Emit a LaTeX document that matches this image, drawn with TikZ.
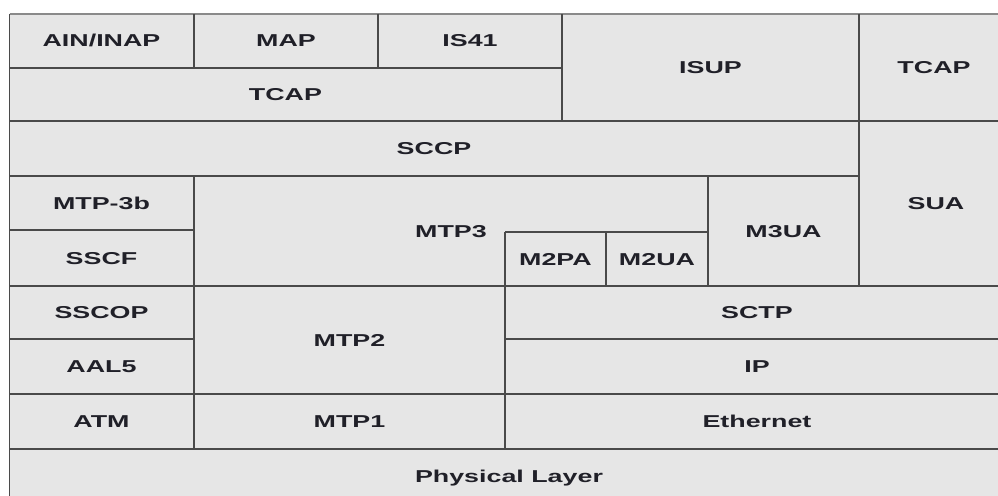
\documentclass[tikz,border=0pt]{standalone}
\usepackage{fontspec}
\setmainfont{Liberation Sans}
\usepackage{graphicx}
\definecolor{cellfill}{HTML}{E6E6E6}
\definecolor{gridline}{HTML}{4A4A4A}
\definecolor{toplinec}{HTML}{8A8A8A}
\definecolor{txt}{HTML}{202028}
\newcommand{\widetxt}[1]{\scalebox{1.56}[1]{#1}}
\begin{document}
\begin{tikzpicture}[x=1pt,y=-1pt,
  lbl/.style={font=\fontsize{17.2}{17.2}\selectfont\bfseries, text=txt, inner sep=0pt, text height=12.3pt, text depth=0pt},
  gridl/.style={draw=gridline, line width=1.4pt},
  topl/.style={draw=toplinec, line width=1.6pt}]
\useasboundingbox (0,0) rectangle (998,495);
\clip (0,0) rectangle (998,495);
\fill[cellfill] (9.5,14) rectangle (1009,504);
% outer edges
\draw[topl] (9.5,14) -- (1009,14);
\draw[gridl] (9.5,14) -- (9.5,504);
% row 1
\draw[gridl] (194,14) -- (194,68);
\draw[gridl] (378,14) -- (378,68);
\draw[gridl] (562,14) -- (562,121);
\draw[gridl] (859,14) -- (859,286);
\draw[gridl] (9.5,68) -- (562,68);
\draw[gridl] (9.5,121) -- (1009,121);
\draw[gridl] (9.5,176) -- (859,176);
% MTP3 area
\draw[gridl] (194,176) -- (194,449);
\draw[gridl] (9.5,230) -- (194,230);
\draw[gridl] (708,176) -- (708,286);
\draw[gridl] (505,232) -- (708,232);
\draw[gridl] (505,232) -- (505,449);
\draw[gridl] (606,232) -- (606,286);
\draw[gridl] (9.5,286) -- (1009,286);
% lower rows
\draw[gridl] (9.5,339) -- (194,339);
\draw[gridl] (505,339) -- (1009,339);
\draw[gridl] (9.5,394) -- (1009,394);
\draw[gridl] (9.5,449) -- (1009,449);
% labels
\node[lbl] (ain) at (101.5,40.5) {\widetxt{AIN/INAP}};
\node[lbl] (map) at (286,40.5) {\widetxt{MAP}};
\node[lbl] (is41) at (470,40.5) {\widetxt{IS41}};
\node[lbl] (tcapa) at (285.5,94.5) {\widetxt{TCAP}};
\node[lbl] (isup) at (710.5,67.5) {\widetxt{ISUP}};
\node[lbl] (tcapb) at (934,67.5) {\widetxt{TCAP}};
\node[lbl] (sccp) at (434,148.5) {\widetxt{SCCP}};
\node[lbl] (sua) at (936,203.5) {\widetxt{SUA}};
\node[lbl] (mtp3b) at (101.5,203) {\widetxt{MTP-3b}};
\node[lbl] (sscf) at (101.5,258) {\widetxt{SSCF}};
\node[lbl] (mtp3) at (451,231) {\widetxt{MTP3}};
\node[lbl] (m2pa) at (555.5,259) {\widetxt{M2PA}};
\node[lbl] (m2ua) at (657,259) {\widetxt{M2UA}};
\node[lbl] (m3ua) at (783.5,231) {\widetxt{M3UA}};
\node[lbl] (sscop) at (101.5,312.5) {\widetxt{SSCOP}};
\node[lbl] (mtp2) at (349.5,340) {\widetxt{MTP2}};
\node[lbl] (sctp) at (757,312.5) {\widetxt{SCTP}};
\node[lbl] (aal5) at (101.5,366.5) {\widetxt{AAL5}};
\node[lbl] (ip) at (757,366.5) {\widetxt{IP}};
\node[lbl] (atm) at (101.5,421.5) {\widetxt{ATM}};
\node[lbl] (mtp1) at (349.5,421.5) {\widetxt{MTP1}};
\node[lbl] (eth) at (757,421.5) {\widetxt{Ethernet}};
\node[lbl] (phys) at (509,476) {\widetxt{Physical Layer}};
\end{tikzpicture}
\end{document}
